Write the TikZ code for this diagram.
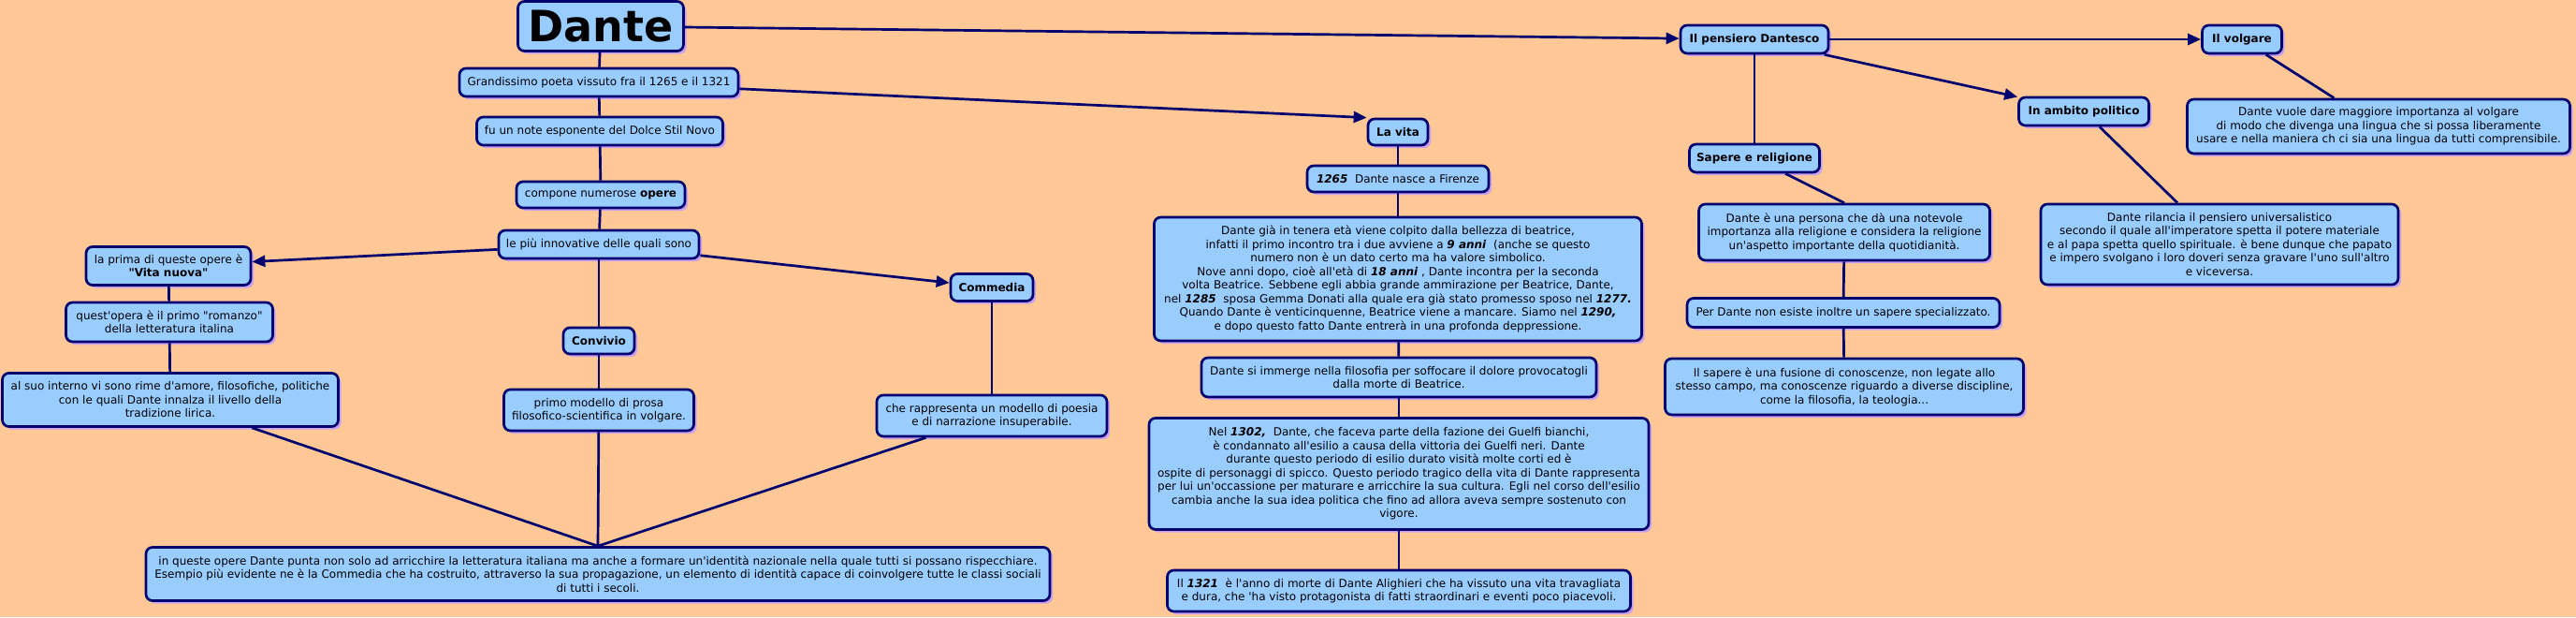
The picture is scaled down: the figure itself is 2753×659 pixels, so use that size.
\documentclass[tikz,border=0pt]{standalone}
\usepackage{fontspec}
\setmainfont{DejaVu Sans}[Ligatures=TeXOff]
\usetikzlibrary{arrows.meta,shadows}
\definecolor{bgc}{RGB}{255,200,150}
\definecolor{boxc}{RGB}{153,204,255}
\definecolor{edgec}{RGB}{0,0,110}
\definecolor{shc}{RGB}{200,160,240}
\newcommand{\bi}[1]{\textbf{\textit{#1}}}
\begin{document}
\begin{tikzpicture}[x=1pt,y=-1pt,
 cbox/.style={draw=edgec, line width=2.7pt, fill=boxc, rounded corners=7pt, align=center, inner sep=2pt,
   font=\fontsize{12}{14.5}\selectfont,
   drop shadow={shadow xshift=3pt,shadow yshift=-3pt,fill=shc,opacity=1}},
 bbox/.style={cbox, font=\fontsize{12}{14.5}\selectfont\bfseries},
 lnk/.style={draw=edgec, line width=2.7pt},
 arr/.style={lnk, -{Triangle[length=14pt,width=12pt]}}]
\fill[bgc] (0,0) rectangle (2753,659);
\useasboundingbox (0,0) rectangle (2753,659);

% left column
\node[cbox, minimum width=177pt, minimum height=53pt, font=\fontsize{46}{50}\selectfont\bfseries] (dante) at (642,28) {Dante};
\node[cbox, minimum width=298pt, minimum height=30pt] (gran) at (640,88) {Grandissimo poeta vissuto fra il 1265 e il 1321};
\node[cbox, minimum width=263pt, minimum height=30pt] (fu) at (641,140) {fu un note esponente del Dolce Stil Novo};
\node[cbox, minimum width=180pt, minimum height=28pt] (comp) at (642,208) {compone numerose \textbf{opere}};
\node[cbox, minimum width=214pt, minimum height=30pt] (piu) at (640,261) {le più innovative delle quali sono};
\node[cbox, minimum width=176pt, minimum height=41pt] (prima) at (180,284) {la prima di queste opere è\\\textbf{"Vita nuova"}};
\node[cbox, minimum width=221pt, minimum height=42pt] (quest) at (181,344) {quest'opera è il primo "romanzo"\\della letteratura italina};
\node[cbox, minimum width=359pt, minimum height=57pt] (al) at (182,427) {al suo interno vi sono rime d'amore, filosofiche, politiche\\con le quali Dante innalza il livello della\\tradizione lirica.};
\node[bbox, minimum width=76pt, minimum height=28pt] (conv) at (640,364) {Convivio};
\node[cbox, minimum width=203pt, minimum height=44pt] (primo) at (640,438) {primo modello di prosa\\filosofico-scientifica in volgare.};
\node[bbox, minimum width=88pt, minimum height=29pt] (comm) at (1060,307) {Commedia};
\node[cbox, minimum width=246pt, minimum height=44pt] (rapp) at (1060,444) {che rappresenta un modello di poesia\\e di narrazione insuperabile.};
\node[cbox, minimum width=966pt, minimum height=57pt] (queste) at (639,613) {in queste opere Dante punta non solo ad arricchire la letteratura italiana ma anche a formare un'identità nazionale nella quale tutti si possano rispecchiare.\\Esempio più evidente ne è la Commedia che ha costruito, attraverso la sua propagazione, un elemento di identità capace di coinvolgere tutte le classi sociali\\di tutti i secoli.};

% la vita column
\node[bbox, minimum width=64pt, minimum height=28pt] (vita) at (1494,141) {La vita};
\node[cbox, minimum width=194pt, minimum height=28pt] (n1265) at (1494,191) {\bi{1265}\ \ Dante nasce a Firenze};
\node[cbox, minimum width=521pt, minimum height=132pt] (gia) at (1494,298) {Dante già in tenera età viene colpito dalla bellezza di beatrice,\\infatti il primo incontro tra i due avviene a \bi{9 anni}\ \ (anche se questo\\numero non è un dato certo ma ha valore simbolico.\\Nove anni dopo, cioè all'età di \bi{18 anni} , Dante incontra per la seconda\\volta Beatrice. Sebbene egli abbia grande ammirazione per Beatrice, Dante,\\nel \bi{1285}\ \ sposa Gemma Donati alla quale era già stato promesso sposo nel \bi{1277.}\\Quando Dante è venticinquenne, Beatrice viene a mancare. Siamo nel \bi{1290,}\\e dopo questo fatto Dante entrerà in una profonda deppressione.};
\node[cbox, minimum width=422pt, minimum height=42pt] (imm) at (1495,403) {Dante si immerge nella filosofia per soffocare il dolore provocatogli\\dalla morte di Beatrice.};
\node[cbox, minimum width=534pt, minimum height=119pt] (n1302) at (1495,506) {Nel \bi{1302,}\ \ Dante, che faceva parte della fazione dei Guelfi bianchi,\\è condannato all'esilio a causa della vittoria dei Guelfi neri. Dante\\durante questo periodo di esilio durato visità molte corti ed è\\ospite di personaggi di spicco. Questo periodo tragico della vita di Dante rappresenta\\per lui un'occassione per maturare e arricchire la sua cultura. Egli nel corso dell'esilio\\cambia anche la sua idea politica che fino ad allora aveva sempre sostenuto con\\vigore.};
\node[cbox, minimum width=495pt, minimum height=44pt] (n1321) at (1495,631) {Il \bi{1321}\ \ è l'anno di morte di Dante Alighieri che ha vissuto una vita travagliata\\e dura, che 'ha visto protagonista di fatti straordinari e eventi poco piacevoli.};

% pensiero column
\node[bbox, minimum width=158pt, minimum height=30pt] (pens) at (1875,42) {Il pensiero Dantesco};
\node[bbox, minimum width=85pt, minimum height=30pt] (volg) at (2396,42) {Il volgare};
\node[bbox, minimum width=139pt, minimum height=30pt] (amb) at (2227,119) {In ambito politico};
\node[bbox, minimum width=139pt, minimum height=30pt] (sap) at (1875,169) {Sapere e religione};
\node[cbox, minimum width=409pt, minimum height=58pt] (vuole) at (2542,135) {Dante vuole dare maggiore importanza al volgare\\di modo che divenga una lingua che si possa liberamente\\usare e nella maniera ch ci sia una lingua da tutti comprensibile.};
\node[cbox, minimum width=311pt, minimum height=60pt] (pers) at (1971,248) {Dante è una persona che dà una notevole\\importanza alla religione e considera la religione\\un'aspetto importante della quotidianità.};
\node[cbox, minimum width=382pt, minimum height=86pt] (ril) at (2372,261) {Dante rilancia il pensiero universalistico\\secondo il quale all'imperatore spetta il potere materiale\\e al papa spetta quello spirituale. è bene dunque che papato\\e impero svolgano i loro doveri senza gravare l'uno sull'altro\\e viceversa.};
\node[cbox, minimum width=334pt, minimum height=31pt] (perd) at (1970,334) {Per Dante non esiste inoltre un sapere specializzato.};
\node[cbox, minimum width=383pt, minimum height=60pt] (sapere) at (1971,413) {Il sapere è una fusione di conoscenze, non legate allo\\stesso campo, ma conoscenze riguardo a diverse discipline,\\come la filosofia, la teologia...};

% connectors
\draw[arr] (dante) -- (pens);
\draw[lnk] (dante) -- (gran);
\draw[arr] (gran) -- (vita.north west);
\draw[lnk] (gran) -- (fu);
\draw[lnk] (fu) -- (comp);
\draw[lnk] (comp) -- (piu);
\draw[arr] (piu) -- (prima);
\draw[arr] (piu) -- (comm);
\draw[lnk] (piu) -- (conv);
\draw[lnk] (prima) -- (quest);
\draw[lnk] (quest) -- (al);
\draw[lnk] (al) -- (queste.north);
\draw[lnk] (conv) -- (primo);
\draw[lnk] (primo) -- (queste.north);
\draw[lnk] (comm) -- (rapp);
\draw[lnk] (rapp) -- (queste.north);

\draw[lnk] (vita) -- (n1265);
\draw[lnk] (n1265) -- (gia);
\draw[lnk] (gia) -- (imm);
\draw[lnk] (imm) -- (n1302);
\draw[lnk] (n1302) -- (n1321);

\draw[arr] (pens) -- (volg);
\draw[arr] (pens) -- (amb);
\draw[lnk] (pens) -- (sap);
\draw[lnk] (sap) -- (pers.north);
\draw[lnk] (pers) -- (perd);
\draw[lnk] (perd) -- (sapere);
\draw[lnk] (volg) -- (vuole);
\draw[lnk] (amb) -- ([xshift=-45pt]ril.north);
\end{tikzpicture}
\end{document}
